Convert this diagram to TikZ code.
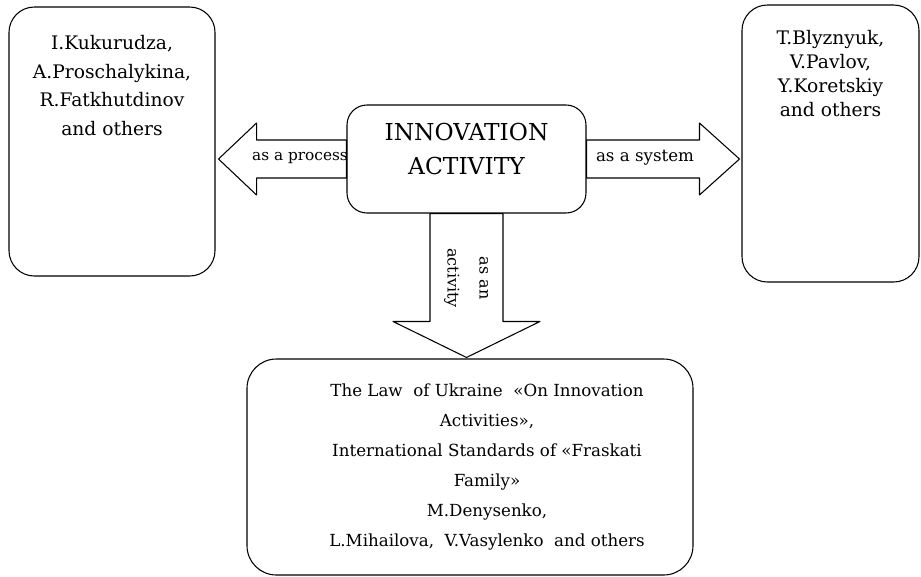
\documentclass[tikz,border=0pt]{standalone}
\usepackage{fontspec}
\setmainfont{DejaVu Serif}
\usetikzlibrary{positioning,calc}

\begin{document}
\begin{tikzpicture}[x=0.75pt,y=-0.75pt,line join=round,
  box/.style={draw,line width=0.8pt,fill=white,rounded corners=19pt},
  blockarrow/.style={draw,line width=0.8pt,fill=white},
  boxtext/.style={align=center,font=\fontsize{14}{21.5}\selectfont},
  arrowtext/.style={font=\fontsize{11.5}{14}\selectfont}]
\useasboundingbox (0,0) rectangle (921,576);
\node[box,minimum width=154.5pt,minimum height=201.75pt] (procbox) at (112,141.5) {};
\node[box,minimum width=132.75pt,minimum height=207.75pt] (sysbox) at (830.5,143.5) {};
\node[box,rounded corners=15pt,minimum width=179.25pt,minimum height=81pt] (centre) at (466.5,159) {};
\node[box,rounded corners=22pt,minimum width=334.5pt,minimum height=162pt] (lawbox) at (470,467) {};
\node[boxtext,below=18pt of procbox.north] (proctext) {I.Kukurudza,\\A.Proschalykina,\\R.Fatkhutdinov\\and others};
\node[boxtext,below=16pt of sysbox.north,font=\fontsize{14}{18}\selectfont] (systext) {T.Blyznyuk,\\V.Pavlov,\\Y.Koretskiy\\and others};
\node[align=center,font=\fontsize{17.5}{25.5}\selectfont] (title) at ($(centre)+(0,-10)$) {INNOVATION\\ACTIVITY};
\node[boxtext,font=\fontsize{12.5}{22.5}\selectfont] (lawtext) at ($(lawbox)+(17,0)$) {The Law\ \ of Ukraine\ \ «On Innovation\\Activities»,\\International Standards of «Fraskati\\Family»\\M.Denysenko,\\L.Mihailova,\ \ V.Vasylenko\ \ and others};
\coordinate (proctip) at ($(procbox.east |- centre.west)+(3,0)$);
\coordinate (systip) at ($(sysbox.west |- centre.east)+(-2,0)$);
\coordinate (acttip) at ($(centre.south |- lawbox.north)+(0,-1)$);
\draw[blockarrow] (proctip) -- ++(38,-36) -- ++(0,17) -- ($(centre.west)+(0,-19)$) -- ($(centre.west)+(0,19)$) -- ($(proctip)+(38,19)$) -- ++(0,17) -- cycle;
\draw[blockarrow] (systip) -- ++(-40,-36) -- ++(0,17) -- ($(centre.east)+(0,-19)$) -- ($(centre.east)+(0,19)$) -- ($(systip)+(-40,19)$) -- ++(0,17) -- cycle;
\draw[blockarrow] (acttip) -- ++(-73.5,-36) -- ++(37,0) -- ($(centre.south)+(-36.5,0)$) -- ($(centre.south)+(36.5,0)$) -- ($(acttip)+(36.5,-36)$) -- ++(37,0) -- cycle;
\node[arrowtext] (proclabel) at (300,158) {as a process};
\node[arrowtext,font=\fontsize{12.5}{14}\selectfont] (syslabel) at (645,158) {as a system};
\node[arrowtext,align=center,rotate=-90,font=\fontsize{12}{24}\selectfont] (actlabel) at (466,278) {as an\\activity};
\end{tikzpicture}
\end{document}
